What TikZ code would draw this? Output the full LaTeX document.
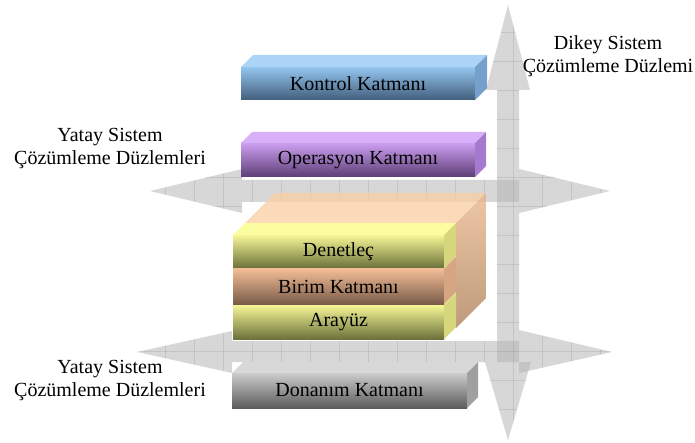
\documentclass[tikz,border=0pt]{standalone}
\usepackage{fontspec}
\setmainfont{Liberation Serif}
\definecolor{kontrolust}{RGB}{172,212,246}
\definecolor{kontrolon}{RGB}{148,198,240}
\definecolor{kontrolalt}{RGB}{66,94,124}
\definecolor{kontrolyan}{RGB}{118,160,204}
\definecolor{operust}{RGB}{216,176,250}
\definecolor{operon}{RGB}{204,158,240}
\definecolor{operalt}{RGB}{92,62,118}
\definecolor{operyan}{RGB}{164,122,206}
\definecolor{sariust}{RGB}{252,252,160}
\definecolor{sarion}{RGB}{246,246,150}
\definecolor{sarialt}{RGB}{108,114,58}
\definecolor{sariyan}{RGB}{214,214,124}
\definecolor{birimon}{RGB}{242,188,150}
\definecolor{birimalt}{RGB}{122,92,72}
\definecolor{birimyan}{RGB}{214,166,130}
\definecolor{donust}{RGB}{216,216,216}
\definecolor{donon}{RGB}{204,204,204}
\definecolor{donalt}{RGB}{92,92,92}
\definecolor{donyan}{RGB}{160,160,160}
\definecolor{seftali}{RGB}{250,206,162}
\definecolor{seftaliyan}{RGB}{232,180,134}
\definecolor{seftalialt}{RGB}{168,120,80}
% arrow outlines
\newcommand{\dikeyok}{(508,5) -- (530,90) -- (519,90) -- (519,362) -- (531,362) -- (508,440) -- (485,362) -- (497,362) -- (497,90) -- (486,90) -- cycle}
\newcommand{\yatayust}{(150,191) -- (242,169) -- (242,180) -- (519,180) -- (519,169) -- (610,191) -- (519,213) -- (519,202) -- (242,202) -- (242,213) -- cycle}
\newcommand{\yatayalt}{(137,352) -- (232,331) -- (232,341) -- (519,341) -- (519,330) -- (612,352) -- (519,373) -- (519,362) -- (232,362) -- (232,373) -- cycle}
% top and side faces of a layer box
\newcommand{\kutuyuz}[4]{%
  \fill[#3] (#1.north west) -- ++(#2,-#2) -- ([shift={(#2,-#2)}]#1.north east) -- (#1.north east) -- cycle;
  \fill[#4] (#1.north east) -- ++(#2,-#2) -- ([shift={(#2,-#2)}]#1.south east) -- (#1.south east) -- cycle;}

\begin{document}
\begin{tikzpicture}[x=1pt, y=-1pt, font=\fontsize{20}{23}\selectfont,
  every node/.style={inner sep=0pt, outer sep=0pt},
  okzemin/.style={fill=black!31, fill opacity=0.5},
  izgara/.style={draw=black!45, line width=0.4pt, opacity=0.25},
  katman/.style={rectangle, minimum height=33pt}]
  \useasboundingbox (0,0) rectangle (695,443);

  % plane arrows
  \path[okzemin] \dikeyok;
  \path[okzemin] \yatayust;
  \path[okzemin] \yatayalt;
  \begin{scope}
    \clip \dikeyok \yatayust \yatayalt;
    \foreach \gx in {20,49,...,640} \draw[izgara] (\gx,0) -- (\gx,443);
    \foreach \gy in {3,32,...,443} \draw[izgara] (0,\gy) -- (695,\gy);
  \end{scope}

  % upper layers
  \node[katman, minimum width=234pt, top color=kontrolon, bottom color=kontrolalt] (kontrol) at (358,83.5) {Kontrol Katmanı};
  \kutuyuz{kontrol}{12}{kontrolust}{kontrolyan}
  \node[katman, minimum width=234pt, minimum height=34pt, top color=operon, bottom color=operalt] (operasyon) at (358,160) {Operasyon Katmanı};
  \kutuyuz{operasyon}{11}{operust}{operyan}

  % peach block behind the stack
  \fill[seftali, fill opacity=0.75] (245,223) -- (275,193) -- (486,193) -- (456,223) -- cycle;
  \path[top color=seftaliyan, bottom color=seftalialt, fill opacity=0.75] (456,223) -- (486,193) -- (486,298) -- (456,328) -- cycle;

  % stack
  \node[katman, minimum width=211pt, minimum height=34pt, top color=sarion, bottom color=sarialt] (arayuz) at (338.5,322) {Arayüz};
  \kutuyuz{arayuz}{12}{sariust}{sariyan}
  \node[katman, minimum width=211pt, minimum height=35pt, top color=birimon, bottom color=birimalt] (birim) at (338.5,286.5) {Birim Katmanı};
  \kutuyuz{birim}{12}{birimon}{birimyan}
  \node[katman, minimum width=211pt, top color=sarion, bottom color=sarialt] (denetlec) at (338.5,251.5) {Denetleç};
  \kutuyuz{denetlec}{12}{sariust}{sariyan}

  % bottom layer
  \node[katman, minimum width=235pt, minimum height=35pt, top color=donon, bottom color=donalt] (donanim) at (349.5,390.5) {Donanım Katmanı};
  \kutuyuz{donanim}{11}{donust}{donyan}

  % plane labels
  \node[align=center] (dikey) at (608,56.5) {Dikey Sistem\\Çözümleme Düzlemi};
  \node[align=center] (yatay1) at (110,149) {Yatay Sistem\\Çözümleme Düzlemleri};
  \node[align=center] (yatay2) at (110,381) {Yatay Sistem\\Çözümleme Düzlemleri};
\end{tikzpicture}
\end{document}
